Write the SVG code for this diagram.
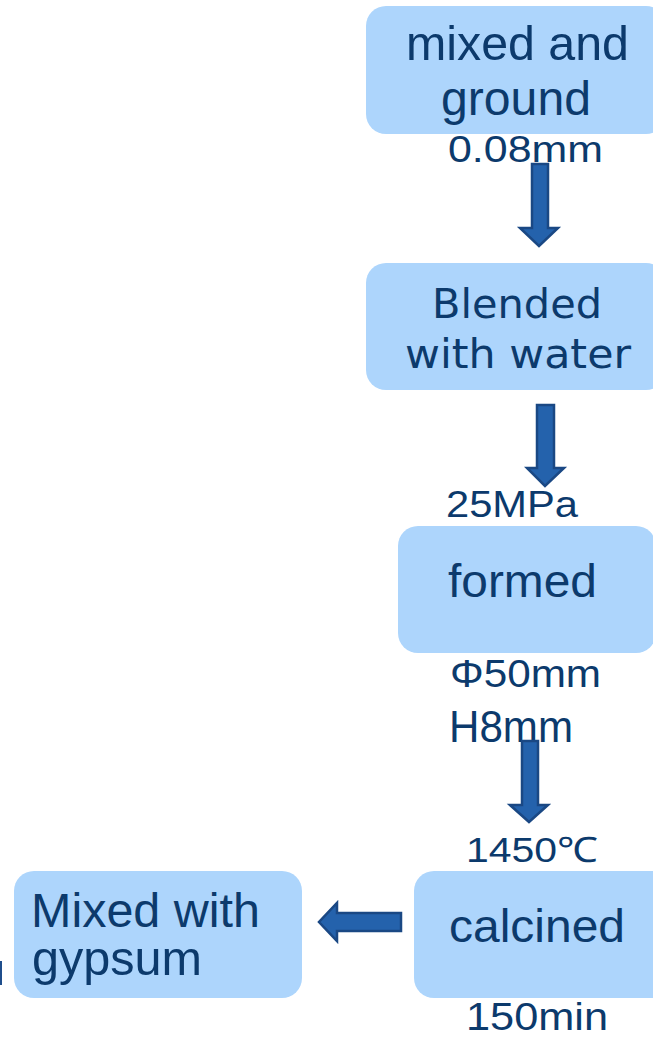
<svg xmlns="http://www.w3.org/2000/svg" width="653" height="1037" viewBox="0 0 653 1037">
  <style>
    .box { fill: #ADD5FC; }
    .lbl { font-family: "Liberation Sans", Arial, sans-serif; fill: #0C3A6C; }
    .wide { font-family: "DejaVu Sans", "Liberation Sans", sans-serif; fill: #0C3A6C; }
    .arrow { fill: #2462AC; stroke: #1A4884; stroke-width: 2.5; stroke-linejoin: miter; }
  </style>
  <rect width="653" height="1037" fill="#FFFFFF"/>

  <!-- process steps -->
  <g id="step-grind">
    <rect class="box" x="366" y="6" width="300" height="128" rx="20"/>
    <text class="lbl" x="406" y="60" font-size="48" textLength="223" lengthAdjust="spacingAndGlyphs">mixed and</text>
    <text class="lbl" x="441" y="115" font-size="47.5" textLength="150" lengthAdjust="spacingAndGlyphs">ground</text>
    <text class="lbl" x="448" y="162" font-size="36" textLength="155" lengthAdjust="spacingAndGlyphs">0.08mm</text>
  </g>

  <g id="step-blend">
    <rect class="box" x="366" y="263" width="300" height="127" rx="20"/>
    <text class="wide" x="432" y="318" font-size="41" textLength="170" lengthAdjust="spacingAndGlyphs">Blended</text>
    <text class="wide" x="405" y="368" font-size="41" textLength="226" lengthAdjust="spacingAndGlyphs">with water</text>
  </g>

  <g id="step-form">
    <text class="lbl" x="446" y="517" font-size="37" textLength="132" lengthAdjust="spacingAndGlyphs">25MPa</text>
    <rect class="box" x="398" y="526" width="258" height="127" rx="20"/>
    <text class="lbl" x="448" y="597" font-size="47" textLength="149" lengthAdjust="spacingAndGlyphs">formed</text>
    <text class="lbl" x="450" y="687" font-size="39" textLength="151" lengthAdjust="spacingAndGlyphs">Φ50mm</text>
    <text class="lbl" x="449" y="742" font-size="45" textLength="124" lengthAdjust="spacingAndGlyphs">H8mm</text>
  </g>

  <g id="step-calcine">
    <text class="lbl" x="466" y="862" font-size="35" textLength="132" lengthAdjust="spacingAndGlyphs">1450℃</text>
    <rect class="box" x="414" y="871" width="260" height="127" rx="20"/>
    <text class="lbl" x="449" y="942" font-size="47" textLength="176" lengthAdjust="spacingAndGlyphs">calcined</text>
    <text class="lbl" x="466" y="1030" font-size="38" textLength="142" lengthAdjust="spacingAndGlyphs">150min</text>
  </g>

  <g id="step-gypsum">
    <rect class="box" x="14" y="871" width="288" height="127" rx="20"/>
    <text class="lbl" x="31" y="927" font-size="47.5" textLength="229" lengthAdjust="spacingAndGlyphs">Mixed with</text>
    <text class="lbl" x="32" y="975" font-size="47.5" textLength="170" lengthAdjust="spacingAndGlyphs">gypsum</text>
  </g>

  <!-- edge of a shape cut off at the left border -->
  <rect x="0" y="961" width="2" height="24" fill="#1F4E8C"/>

  <!-- block arrows between the steps -->
  <g id="connectors">
    <polygon class="arrow" points="532,164 548,164 548,228 558,228 539,246 520,228 532,228"/>
    <polygon class="arrow" points="537,405 554,405 554,468 564,468 545,486 527,468 537,468"/>
    <polygon class="arrow" points="522,741 538,741 538,805 548,805 529,822 510,805 522,805"/>
    <polygon class="arrow" points="401,913 401,931 337,931 337,941 319,922 337,903 337,913"/>
  </g>
</svg>
